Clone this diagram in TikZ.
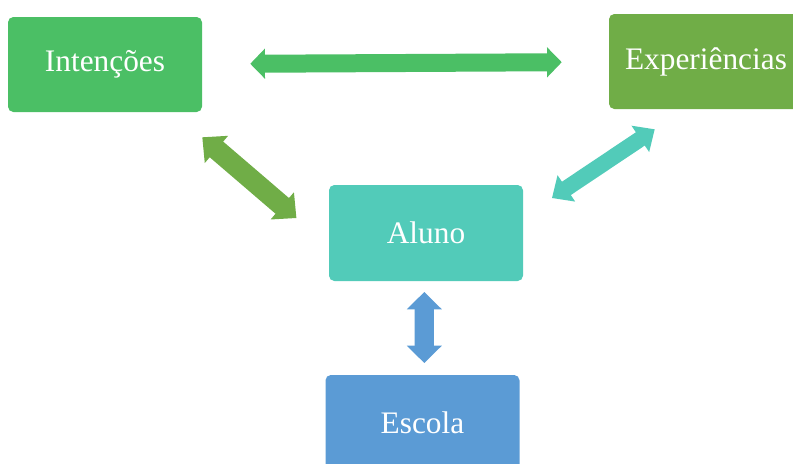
\documentclass[tikz,border=0pt]{standalone}
\usepackage{fontspec}
\setmainfont{Liberation Serif}
\usetikzlibrary{arrows.meta}

\definecolor{verdeint}{HTML}{4BBF65}
\definecolor{verdeexp}{HTML}{70AD47}
\definecolor{turquesa}{HTML}{52CBB9}
\definecolor{azulesc}{HTML}{5B9BD5}

\tikzset{
 caixa/.style={rounded corners=4pt, minimum width=145.5pt, minimum height=71.25pt,
   inner sep=0pt, text=white, font=\fontsize{23.5}{28}\selectfont},
 seta/.style={line width=13pt, {Triangle[width=25pt,length=13pt]}-{Triangle[width=25pt,length=13pt]}},
}

\begin{document}
\begin{tikzpicture}[x=0.75pt, y=-0.75pt]

\useasboundingbox (0,0) rectangle (793,464);

%CAIXAS
\node[caixa, fill=verdeint] (int) at (105,64.5) {Intenções};
\node[caixa, fill=verdeexp] (exp) at (706,61.5) {Experiências};
\node[caixa, fill=turquesa, minimum height=72pt] (aluno) at (426,233) {Aluno};
\node[caixa, fill=azulesc] (escola) at (422.5,422.5) {Escola};

%PONTAS
\coordinate (ia) at ([shift={(0,25)}]int.south east);
\coordinate (ai) at ([shift={(-32.3,33.3)}]aluno.north west);
\coordinate (ea) at ([shift={(46,20)}]exp.south west);
\coordinate (ae) at ([shift={(28.7,13.3)}]aluno.north east);
\coordinate (as) at ([shift={(-1.7,10.7)}]aluno.south);
\coordinate (sa) at ([shift={(1.8,-11.7)}]escola.north);

%SETAS
\draw[seta, verdeint, line width=13.5pt,
  {Triangle[width=22pt,length=11pt]}-{Triangle[width=22pt,length=11pt]},
  shorten <=36pt, shorten >=35.25pt] (int) -- (exp);
\draw[seta, verdeexp, line width=15.5pt,
  {Triangle[width=26pt,length=14pt]}-{Triangle[width=26pt,length=14pt]}] (ia) -- (ai);
\draw[seta, turquesa, line width=12pt,
  {Triangle[width=23pt,length=13pt]}-{Triangle[width=23pt,length=13pt]}] (ea) -- (ae);
\draw[seta, azulesc, line width=14.5pt,
  {Triangle[width=25.5pt,length=13pt]}-{Triangle[width=25.5pt,length=13pt]}] (as) -- (sa);

\end{tikzpicture}
\end{document}
